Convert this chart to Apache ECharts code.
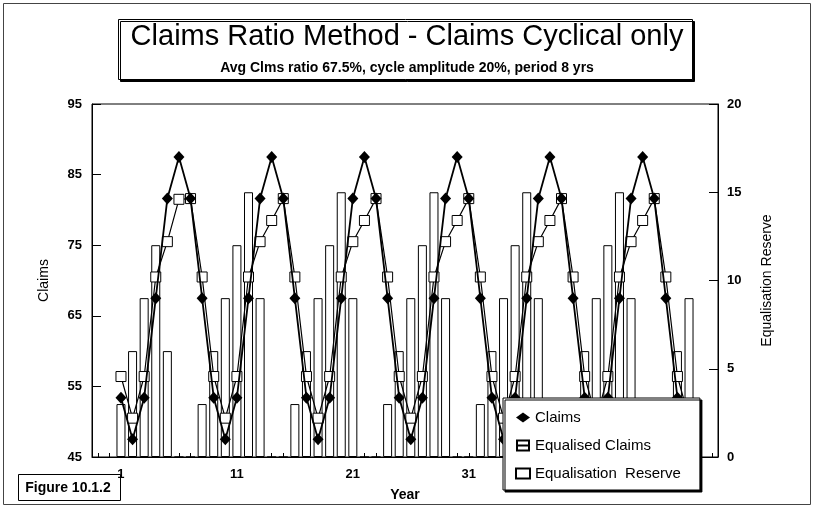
<!DOCTYPE html>
<html>
<head>
<meta charset="utf-8">
<title>Claims Ratio Method - Claims Cyclical only</title>
<script src="https://cdn.jsdelivr.net/npm/echarts@6/dist/echarts.min.js"></script>
<style>
  html, body { margin: 0; padding: 0; background: #fff; }
  #chart { width: 814px; height: 509px; }
</style>
</head>
<body>
<div id="chart"></div>
<script>
// Year axis (two empty years either side of the 50 simulated years)
const years = [-1, 0, 1, 2, 3, 4, 5, 6, 7, 8, 9, 10, 11, 12, 13, 14, 15, 16, 17, 18, 19, 20,
  21, 22, 23, 24, 25, 26, 27, 28, 29, 30, 31, 32, 33, 34, 35, 36, 37, 38, 39, 40,
  41, 42, 43, 44, 45, 46, 47, 48, 49, 50, 51, 52];
const xTickLabels = ['1', '11', '21', '31', '41'];
const claimsTicks = [45, 55, 65, 75, 85, 95];
const reserveTicks = [0, 5, 10, 15, 20];

// Claims ratio (%) per year
const claims = [null, null,
  53.4, 47.5, 53.4, 67.5, 81.6, 87.5, 81.6, 67.5,
  53.4, 47.5, 53.4, 67.5, 81.6, 87.5, 81.6, 67.5,
  53.4, 47.5, 53.4, 67.5, 81.6, 87.5, 81.6, 67.5,
  53.4, 47.5, 53.4, 67.5, 81.6, 87.5, 81.6, 67.5,
  53.4, 47.5, 53.4, 67.5, 81.6, 87.5, 81.6, 67.5,
  53.4, 47.5, 53.4, 67.5, 81.6, 87.5, 81.6, 67.5,
  53.4, 47.5, null, null];

// Claims after transfers to / from the equalisation reserve
const equalisedClaims = [null, null,
  56.4, 50.5, 56.4, 70.5, 75.5, 81.5, 81.6, 70.5,
  56.4, 50.5, 56.4, 70.5, 75.5, 78.5, 81.6, 70.5,
  56.4, 50.5, 56.4, 70.5, 75.5, 78.5, 81.6, 70.5,
  56.4, 50.5, 56.4, 70.5, 75.5, 78.5, 81.6, 70.5,
  56.4, 50.5, 56.4, 70.5, 75.5, 78.5, 81.6, 70.5,
  56.4, 50.5, 56.4, 70.5, 75.5, 78.5, 81.6, 70.5,
  56.4, 50.5, null, null];

// Equalisation reserve balance at year end
const equalisationReserve = [null, null,
  3, 6, 9, 12, 6, 0, 0, 3,
  6, 9, 12, 15, 9, 0, 0, 3,
  6, 9, 12, 15, 9, 0, 0, 3,
  6, 9, 12, 15, 9, 0, 0, 3,
  6, 9, 12, 15, 9, 0, 0, 3,
  6, 9, 12, 15, 9, 0, 0, 3,
  6, 9, null, null];

const FONT = '"Liberation Sans", Arial, Helvetica, sans-serif';
const INK = '#000';

const chart = echarts.init(document.getElementById('chart'), null, { renderer: 'canvas' });

chart.setOption({
  animation: false,
  backgroundColor: '#fff',
  textStyle: { fontFamily: FONT, color: INK },
  title: {
    text: 'Claims Ratio Method - Claims Cyclical only',
    subtext: 'Avg Clms ratio 67.5%, cycle amplitude 20%, period 8 yrs',
    left: 'center',
    top: 20,
    padding: [2, 5],
    itemGap: 10,
    textStyle: { fontFamily: FONT, fontSize: 29, fontWeight: 'normal', color: INK },
    subtextStyle: { fontFamily: FONT, fontSize: 14, fontWeight: 'bold', color: INK }
  },
  graphic: [
    {
      type: 'rect', z: -10, silent: true,
      shape: { x: 3.5, y: 3.5, width: 807, height: 501 },
      style: { fill: null, stroke: '#444', lineWidth: 1 }
    },
    {
      type: 'rect', z: -5, silent: true,
      shape: { x: 118.5, y: 19.5, width: 574, height: 60 },
      style: { fill: '#fff', stroke: INK, lineWidth: 1, shadowColor: INK, shadowOffsetX: 2, shadowOffsetY: 2, shadowBlur: 0.01 }
    },
    {
      type: 'group', left: 18, top: 474, silent: true,
      children: [
        {
          type: 'rect',
          shape: { x: 0.5, y: 0.5, width: 102, height: 26 },
          style: { fill: '#fff', stroke: INK, lineWidth: 1 }
        },
        {
          type: 'text', x: 50, y: 14,
          style: { text: 'Figure 10.1.2', fill: INK, font: 'bold 14px ' + FONT, align: 'center', verticalAlign: 'middle' }
        }
      ]
    }
  ],
  grid: {
    left: 92, right: 96, top: 104, bottom: 52,
    show: true, borderColor: INK, borderWidth: 1, backgroundColor: 'transparent'
  },
  legend: {
    orient: 'vertical',
    left: 503, top: 398,
    z: 10,
    padding: [12, 19, 9, 12],
    itemGap: 13,
    itemWidth: 14, itemHeight: 10,
    backgroundColor: '#fff', borderColor: INK, borderWidth: 1,
    shadowColor: INK, shadowOffsetX: 2, shadowOffsetY: 2, shadowBlur: 0.01,
    textStyle: { fontFamily: FONT, fontSize: 15, color: INK },
    data: [
      { name: 'Claims', icon: 'diamond' },
      { name: 'Equalised Claims', icon: 'path://M1,1L13,1L13,11L1,11ZM1,6L13,6' },
      { name: 'Equalisation  Reserve', icon: 'rect' }
    ]
  },
  xAxis: {
    type: 'category',
    data: years.map(String),
    boundaryGap: true,
    name: 'Year',
    nameLocation: 'middle',
    nameGap: 31,
    nameTextStyle: { fontFamily: FONT, fontSize: 14, fontWeight: 'bold', color: INK },
    axisLine: { show: true, lineStyle: { color: INK, width: 1 } },
    axisTick: { show: true, inside: true, length: 4, interval: 0, alignWithLabel: true, lineStyle: { color: INK } },
    axisLabel: {
      interval: (index, value) => xTickLabels.includes(value),
      margin: 11,
      fontFamily: FONT, fontSize: 13, fontWeight: 'bold', color: INK
    },
    splitLine: { show: false }
  },
  yAxis: [
    {
      type: 'value',
      position: 'left',
      min: claimsTicks[0],
      max: claimsTicks[claimsTicks.length - 1],
      name: 'Claims',
      nameLocation: 'middle',
      nameGap: 41,
      nameTextStyle: { fontFamily: FONT, fontSize: 14, color: INK },
      axisLine: { show: true, lineStyle: { color: INK, width: 1 } },
      axisTick: { show: true, inside: true, length: 9, customValues: claimsTicks, lineStyle: { color: INK } },
      axisLabel: { customValues: claimsTicks, margin: 10, fontFamily: FONT, fontSize: 13, fontWeight: 'bold', color: INK },
      splitLine: { show: false }
    },
    {
      type: 'value',
      position: 'right',
      min: reserveTicks[0],
      max: reserveTicks[reserveTicks.length - 1],
      interval: 5,
      name: 'Equalisation Reserve',
      nameLocation: 'middle',
      nameGap: 42,
      nameTextStyle: { fontFamily: FONT, fontSize: 14, color: INK },
      axisLine: { show: true, lineStyle: { color: INK, width: 1 } },
      axisTick: { show: true, inside: true, length: 9, lineStyle: { color: INK } },
      axisLabel: { margin: 9, fontFamily: FONT, fontSize: 13, fontWeight: 'bold', color: INK },
      splitLine: { show: false }
    }
  ],
  series: [
    {
      name: 'Equalisation  Reserve',
      type: 'bar',
      yAxisIndex: 1,
      data: equalisationReserve,
      barWidth: 9,
      itemStyle: { color: '#fff', borderColor: INK, borderWidth: 1 },
      z: 1
    },
    {
      name: 'Equalised Claims',
      type: 'line',
      yAxisIndex: 0,
      data: equalisedClaims,
      symbol: 'rect',
      symbolSize: 10,
      showAllSymbol: true,
      itemStyle: { color: '#fff', borderColor: INK, borderWidth: 1 },
      lineStyle: { color: INK, width: 1.2 },
      z: 2
    },
    {
      name: 'Claims',
      type: 'line',
      yAxisIndex: 0,
      data: claims,
      symbol: 'diamond',
      symbolSize: [11, 12],
      showAllSymbol: true,
      itemStyle: { color: INK },
      lineStyle: { color: INK, width: 1.8 },
      z: 3
    }
  ]
});
</script>
</body>
</html>
